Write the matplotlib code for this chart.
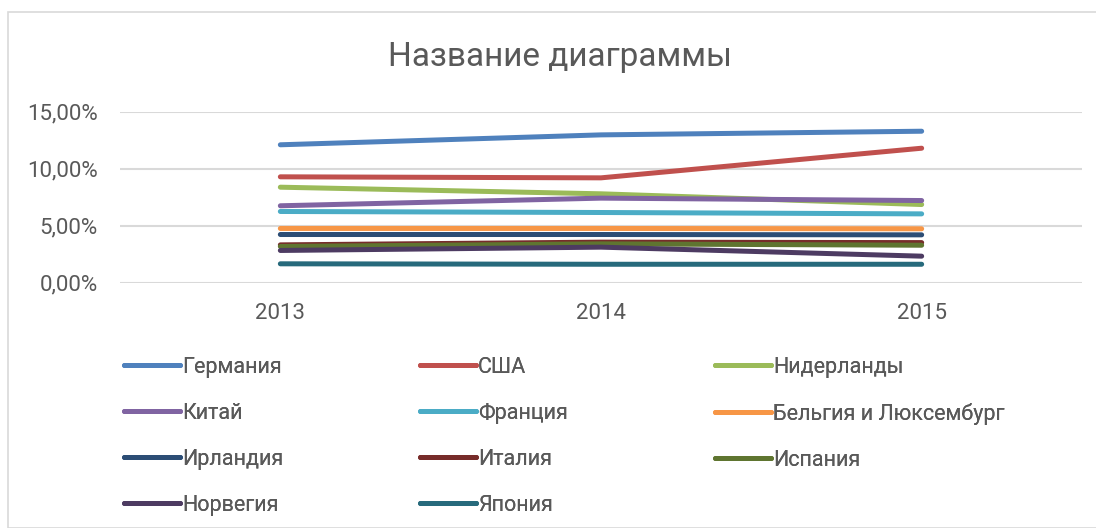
import matplotlib
matplotlib.use("Agg")
from matplotlib import pyplot as plt
from matplotlib.patches import Rectangle
from matplotlib.ticker import FuncFormatter

years = ["2013", "2014", "2015"]

germany = [12.08, 12.95, 13.27]
usa = [9.27, 9.18, 11.78]
netherlands = [8.36, 7.78, 6.84]
china = [6.73, 7.40, 7.19]
france = [6.23, 6.14, 6.02]
belgium = [4.74, 4.74, 4.71]
ireland = [4.21, 4.21, 4.18]
italy = [3.30, 3.54, 3.50]
spain = [3.16, 3.39, 3.27]
norway = [2.81, 3.10, 2.31]
japan = [1.64, 1.60, 1.60]

names = ["Германия", "США", "Нидерланды", "Китай", "Франция", "Бельгия и Люксембург",
         "Ирландия", "Италия", "Испания", "Норвегия", "Япония"]
series = [germany, usa, netherlands, china, france, belgium, ireland, italy, spain, norway, japan]
colors = ["#4F81BD", "#C0504D", "#9BBB59", "#8064A2", "#4BACC6", "#F79646",
          "#2C4D75", "#772C2A", "#5F7530", "#4D3B62", "#276A7C"]

text_color = "#595959"
W, H = 1096, 528

fig = plt.figure(figsize=(W / 100, H / 100), dpi=100)

# рамка области диаграммы
fig.patches.append(Rectangle((8 / W, 0), 1.2, 1 - 12 / H, transform=fig.transFigure,
                             fill=False, edgecolor="#D9D9D9", linewidth=1.2))

ax = fig.add_axes([120 / W, 1 - 282.5 / H, (1082 - 120) / W, (282.5 - 111.5) / H])

x = list(range(len(years)))
for vals, name, c in zip(series, names, colors):
    ax.plot(x, [v / 100 for v in vals], color=c, lw=3.6, solid_capstyle="round",
            solid_joinstyle="round", label=name)

ax.set_xlim(-0.5, 2.5)
ax.set_ylim(0, 0.15)
ax.set_yticks([0, 0.05, 0.10, 0.15])
ax.yaxis.set_major_formatter(FuncFormatter(lambda v, p: f"{v * 100:.2f}%".replace(".", ",")))
ax.set_xticks(x)
ax.set_xticklabels(years)
ax.grid(axis="y", color="#D9D9D9", lw=1.5)
ax.set_axisbelow(True)
for s in ax.spines.values():
    s.set_visible(False)
ax.tick_params(length=0, colors=text_color, labelsize=16)
ax.tick_params(axis="y", pad=16)
ax.tick_params(axis="x", pad=15)
for t in ax.get_xticklabels() + ax.get_yticklabels():
    t.set_fontfamily("Roboto")

fig.text(560 / W, 1 - 57 / H, "Название диаграммы", ha="center", va="center",
         fontsize=24, color=text_color, family="Roboto")

# легенда: три колонки, заполнение по строкам как в Excel
handles, labels = ax.get_legend_handles_labels()
col_x = [124, 420, 715]
for j, cx in enumerate(col_x):
    idx = list(range(j, len(handles), 3))
    leg = fig.legend([handles[i] for i in idx], [labels[i] for i in idx],
                     loc="upper left", bbox_to_anchor=(cx / W, 1 - 357 / H), frameon=False,
                     prop={"family": "Roboto", "size": 15.5}, borderpad=0, borderaxespad=0,
                     handlelength=2.6, handletextpad=0.1, labelspacing=1.16)
    for t in leg.get_texts():
        t.set_color(text_color)
    fig.add_artist(leg)

fig.savefig("out.png", dpi=100)
